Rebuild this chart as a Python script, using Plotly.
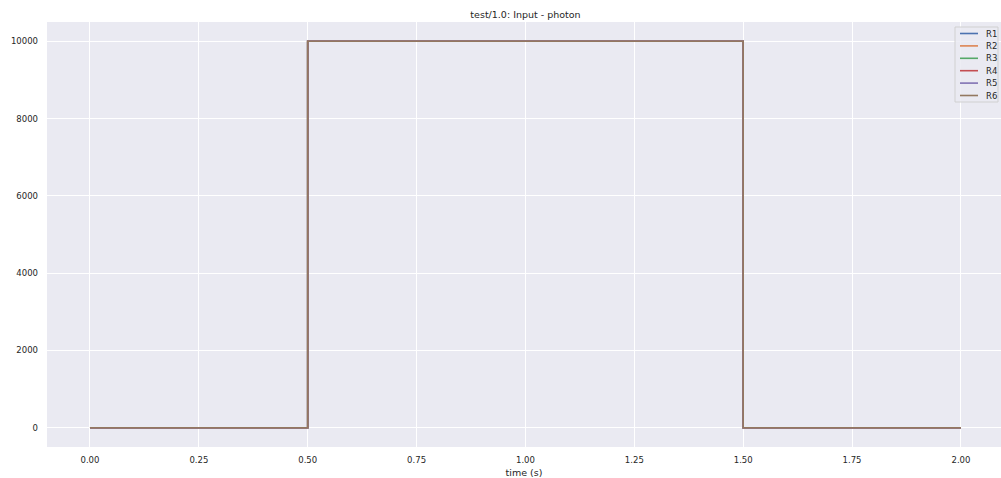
import plotly.graph_objects as go

# Data
series_names = ["R1", "R2", "R3", "R4", "R5", "R6"]
time_s = [0.0, 0.5, 0.5, 1.5, 1.5, 2.0]
photon_input = [0, 0, 10000, 10000, 0, 0]
colors = ["#4C72B0", "#DD8452", "#55A868", "#C44E52", "#8172B3", "#937860"]
x_ticks = [0.0, 0.25, 0.5, 0.75, 1.0, 1.25, 1.5, 1.75, 2.0]
x_tick_labels = ["0.00", "0.25", "0.50", "0.75", "1.00", "1.25", "1.50", "1.75", "2.00"]
y_ticks = [0, 2000, 4000, 6000, 8000, 10000]
y_tick_labels = ["0", "2000", "4000", "6000", "8000", "10000"]

W, H = 1001, 478
L, R, T, B = 47, 0, 22, 31
PW, PH = W - L - R, H - T - B

fig = go.Figure()
for name, col in zip(series_names, colors):
    fig.add_trace(go.Scatter(x=time_s, y=photon_input, mode="lines", name=name,
                             line=dict(color=col, width=1.6), showlegend=False))

# custom compact legend (matplotlib style)
def px_x(px):
    return (px - L) / PW

def px_y(py):
    return (H - B - py) / PH

shapes = [dict(type="rect", xref="paper", yref="paper",
               x0=px_x(955), x1=px_x(998), y0=px_y(102), y1=px_y(27),
               fillcolor="rgba(234,234,242,0.85)", line=dict(color="#d0d0d0", width=1))]
annotations = []
for i, (name, col) in enumerate(zip(series_names, colors)):
    yy = 33.5 + i * 12.4
    shapes.append(dict(type="line", xref="paper", yref="paper",
                       x0=px_x(960), x1=px_x(978), y0=px_y(yy), y1=px_y(yy),
                       line=dict(color=col, width=1.6)))
    annotations.append(dict(xref="paper", yref="paper", x=px_x(984), y=px_y(yy),
                            text=name, showarrow=False, xanchor="left", yanchor="middle",
                            font=dict(size=8.5, color="#262626")))

fig.update_layout(
    width=W, height=H,
    margin=dict(l=L, r=R, t=T, b=B),
    paper_bgcolor="white",
    plot_bgcolor="#EAEAF2",
    font=dict(family="DejaVu Sans", size=8.5, color="#262626"),
    title=dict(text="test/1.0: Input - photon", x=(525.5) / W, xanchor="center",
               y=1 - 15 / H, yanchor="middle", font=dict(size=9.5, color="#262626")),
    xaxis=dict(range=[-0.0987, 2.092], tickvals=x_ticks, ticktext=x_tick_labels,
               showgrid=True, gridcolor="white", gridwidth=1, zeroline=False,
               showline=False, ticks="", automargin=False, ticklabelstandoff=6,
               title=dict(text="time (s)", font=dict(size=9.5), standoff=5)),
    yaxis=dict(range=[-500, 10500], tickvals=y_ticks, ticktext=y_tick_labels,
               showgrid=True, gridcolor="white", gridwidth=1, zeroline=False,
               showline=False, ticks="", automargin=False, ticklabelstandoff=8),
    shapes=shapes,
    annotations=annotations,
    showlegend=False,
)

fig.write_html("out.html", config={"displayModeBar": False},
               post_script="document.body.style.margin='0';document.body.style.overflow='hidden';")
